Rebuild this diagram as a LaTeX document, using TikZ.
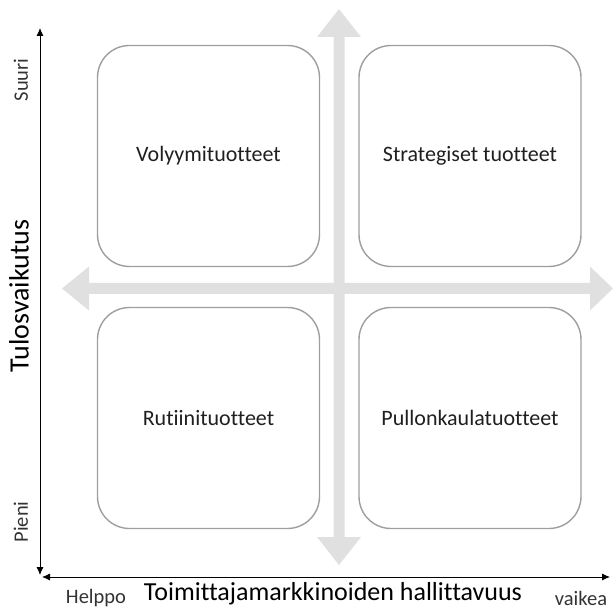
\documentclass[tikz,border=0pt]{standalone}
\usepackage{fontspec}
\setmainfont{Carlito}[Ligatures=CommonOff]
\usetikzlibrary{arrows.meta}
\definecolor{crossgray}{RGB}{224,224,224}
\definecolor{boxgray}{RGB}{158,158,158}

\begin{document}
\begin{tikzpicture}[x=1pt,y=-1pt,
		quad/.style={draw=boxgray,line width=1.4pt,rounded corners=32pt,minimum width=222pt,minimum height=221pt,text=black!88,font=\fontsize{22}{26}\selectfont},
		axis/.style={line width=0.8pt,{Latex[length=8pt,width=7pt]}-{Latex[length=8pt,width=7pt]}},
		small/.style={text=black!80,font=\fontsize{20.5}{24}\selectfont},
		title/.style={text=black,font=\fontsize{26}{30}\selectfont}]
	\useasboundingbox (0,0) rectangle (613,612);
	% grey cross behind the quadrants
	\fill[crossgray] (333.5,37) -- (317,37) -- (339,9) -- (361,37) -- (344.5,37)
		-- (344.5,537) -- (361,537) -- (339,565) -- (317,537) -- (333.5,537) -- cycle;
	\fill[crossgray] (89,283) -- (89,266.5) -- (62,288.5) -- (89,310.5) -- (89,294)
		-- (590,294) -- (590,310.5) -- (613,288.5) -- (590,266.5) -- (590,283) -- cycle;
	% quadrants
	\node[quad] (vol) at (208.5,156) {Volyymituotteet};
	\node[quad] (str) at (470,156) {Strategiset tuotteet};
	\node[quad] (rut) at (208.5,418) {Rutiinituotteet};
	\node[quad] (pul) at (470,418) {Pullonkaulatuotteet};
	% axes
	\coordinate (top) at (40,28);
	\coordinate (bot) at (40,575);
	\coordinate (left) at (42,577);
	\coordinate (right) at (610,577);
	\draw[axis] (bot) -- (top);
	\draw[axis] (left) -- (right);
	\node[small,rotate=90] (suuri) at (21,80) {Suuri};
	\node[small,rotate=90] (pieni) at (21,522) {Pieni};
	\node[title,font=\fontsize{28}{32}\selectfont,rotate=90] (tulos) at (19,296) {Tulosvaikutus};
	\node[small] (helppo) at (96,598) {Helppo};
	\node[small] (vaikea) at (581,598) {vaikea};
	\node[title] (toim) at (333,594) {Toimittajamarkkinoiden hallittavuus};
\end{tikzpicture}
\end{document}
